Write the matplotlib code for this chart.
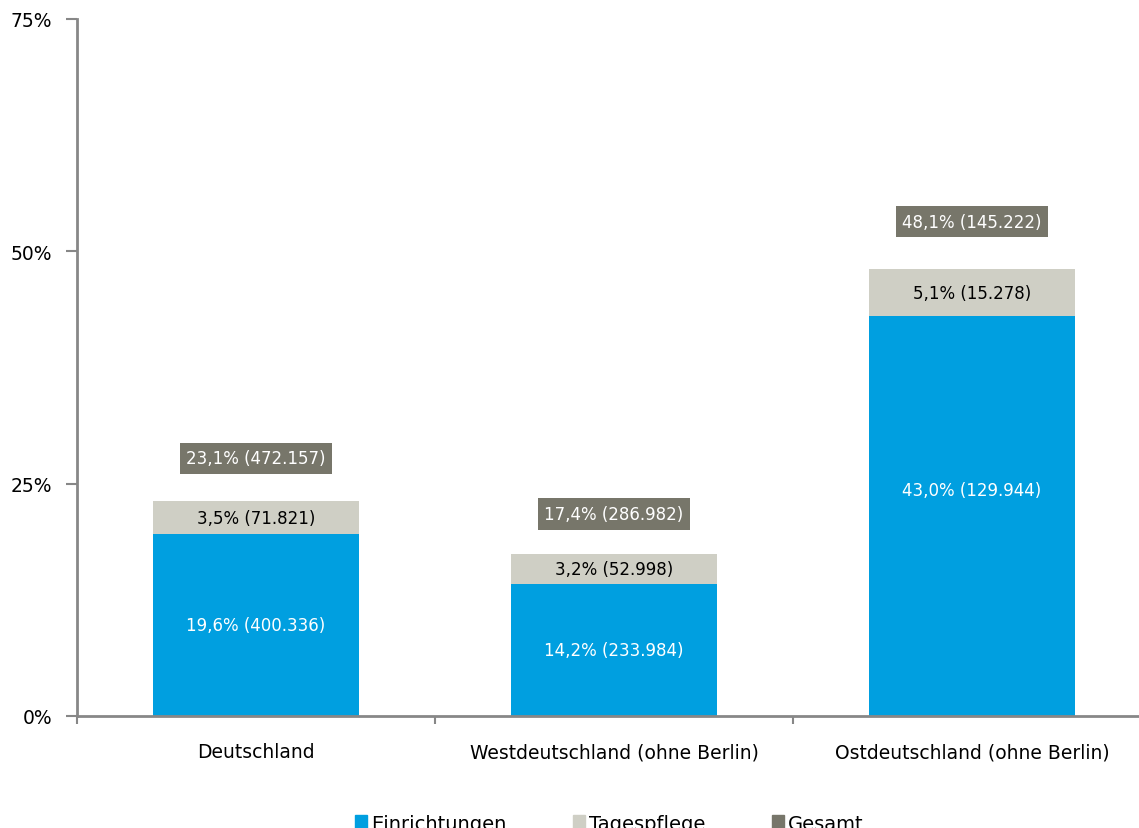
import matplotlib
matplotlib.use("Agg")
import matplotlib.pyplot as plt
from matplotlib.patches import Patch

categories = ["Deutschland", "Westdeutschland (ohne Berlin)", "Ostdeutschland (ohne Berlin)"]
einrichtungen = [19.6, 14.2, 43.0]
tagespflege = [3.5, 3.2, 5.1]
gesamt = [23.1, 17.4, 48.1]
einr_labels = ["19,6% (400.336)", "14,2% (233.984)", "43,0% (129.944)"]
tage_labels = ["3,5% (71.821)", "3,2% (52.998)", "5,1% (15.278)"]
ges_labels = ["23,1% (472.157)", "17,4% (286.982)", "48,1% (145.222)"]
yticks = [0, 25, 50, 75]
ytick_labels = ["0%", "25%", "50%", "75%"]

# layout: fraction of the blue segment height where its label sits
einr_label_frac = [0.5, 0.5, 0.565]
# layout: vertical offset (points) of the total label above the bar
ges_offsets = [31, 29, 34]

c_blue = "#009FE0"
c_light = "#CFCFC5"
c_dark = "#77766A"
c_axis = "#878787"

plt.rcParams['font.family'] = ['DejaVu Sans']

fig = plt.figure(figsize=(11.39, 8.29), dpi=100)
ax = fig.add_axes([77/1139, 1-717/829, 1074/1139, 697/829])

x = list(range(len(categories)))
w = 0.575
ax.bar(x, einrichtungen, width=w, color=c_blue, zorder=2)
ax.bar(x, tagespflege, width=w, bottom=einrichtungen, color=c_light, zorder=2)

for i in x:
    ax.text(i, einrichtungen[i]*einr_label_frac[i], einr_labels[i], ha='center', va='center',
            color='white', fontsize=12)
    ax.text(i, einrichtungen[i] + tagespflege[i]/2, tage_labels[i], ha='center',
            va='center', color='black', fontsize=12)
    ax.annotate(ges_labels[i], (i, gesamt[i]), xytext=(0, ges_offsets[i]), textcoords='offset points',
                ha='center', va='center', color='white', fontsize=12,
                bbox=dict(boxstyle='square,pad=0.4', fc=c_dark, ec='none'))

ax.set_xlim(-0.5, 2.5)
ax.set_ylim(0, 75)
ax.set_yticks(yticks)
ax.set_yticklabels(ytick_labels, fontsize=13.5)
ax.set_xticks([-0.5, 0.5, 1.5])
ax.set_xticklabels([])
ax.set_xticks(x, minor=True)
ax.set_xticklabels(categories, minor=True, fontsize=13.5)
ax.tick_params(axis='x', which='minor', length=0, pad=19)
ax.tick_params(axis='x', which='major', length=6, width=1.5, color=c_axis, direction='out')
ax.tick_params(axis='y', length=8, width=1.5, color=c_axis, direction='out', pad=10)

for s in ['top', 'right']:
    ax.spines[s].set_visible(False)
for s in ['left', 'bottom']:
    ax.spines[s].set_color(c_axis)
    ax.spines[s].set_linewidth(2)

handles = [Patch(color=c_blue), Patch(color=c_light), Patch(color=c_dark)]
fig.legend(handles, ["Einrichtungen", "Tagespflege", "Gesamt"], loc='center',
           bbox_to_anchor=(0.535, 0.006), ncol=3, frameon=False, fontsize=14,
           handlelength=0.65, handleheight=0.65, handletextpad=0.2, columnspacing=3.4)

fig.savefig("out.png", dpi=100)
